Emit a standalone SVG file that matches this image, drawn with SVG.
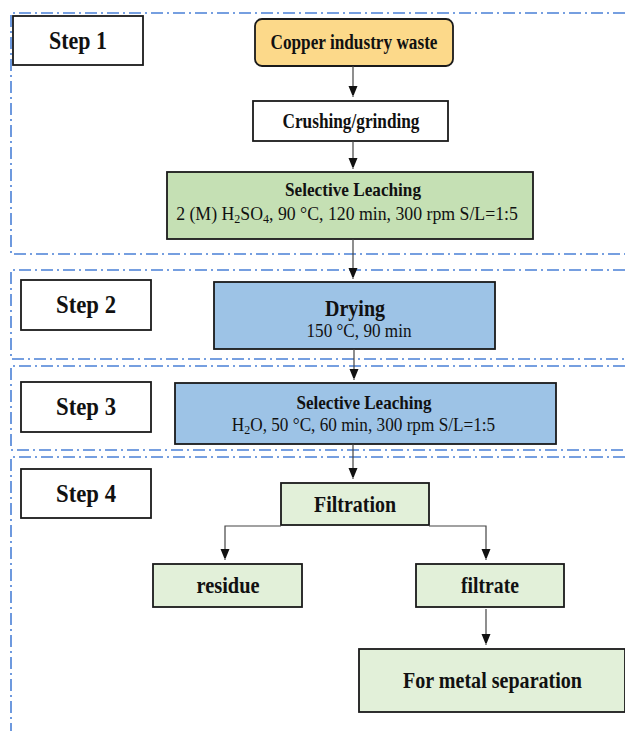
<svg xmlns="http://www.w3.org/2000/svg" width="625" height="731" viewBox="0 0 625 731">
<style>
.sec{fill:none;stroke:#4a80d6;stroke-width:1.6;stroke-dasharray:12 4 2 4}
.box{stroke:#1a1a1a;stroke-width:1.8}
.step{fill:#fff}
.b{font-family:"Liberation Serif","Times New Roman",serif;font-weight:bold;fill:#111;text-anchor:middle}
.r{font-family:"Liberation Serif","Times New Roman",serif;fill:#111;text-anchor:middle}
.con{fill:none;stroke:#444;stroke-width:1.2}
</style>
<defs>
<marker id="ah" markerWidth="9" markerHeight="11" refX="11" refY="4.5" orient="auto" markerUnits="userSpaceOnUse">
<path d="M0,0 L11,4.5 L0,9 z" fill="#111"/>
</marker>
</defs>
<rect width="625" height="731" fill="#fff"/>
<g id="sections">
<path class="sec" d="M625,13 H11 V254 H625"/>
<path class="sec" d="M625,270 H11 V359 H625"/>
<path class="sec" d="M625,366 H11 V450 H625"/>
<path class="sec" d="M625,457 H11 V731"/>
</g>
<g id="step1"><rect class="box step" x="13" y="16" width="130" height="49"/><text class="b" x="78" y="49" font-size="25" textLength="58" lengthAdjust="spacingAndGlyphs">Step 1</text></g>
<g id="step2"><rect class="box step" x="21" y="280" width="130" height="50"/><text class="b" x="86" y="313" font-size="25" textLength="60" lengthAdjust="spacingAndGlyphs">Step 2</text></g>
<g id="step3"><rect class="box step" x="21" y="382" width="130" height="50"/><text class="b" x="86" y="415" font-size="25" textLength="60" lengthAdjust="spacingAndGlyphs">Step 3</text></g>
<g id="step4"><rect class="box step" x="21" y="469" width="130" height="49"/><text class="b" x="86" y="502" font-size="25" textLength="60" lengthAdjust="spacingAndGlyphs">Step 4</text></g>
<g id="copper"><rect class="box" x="255" y="19" width="198" height="47" rx="7" fill="#fcd98a"/><text class="b" x="354" y="49" font-size="20" textLength="167" lengthAdjust="spacingAndGlyphs">Copper industry waste</text></g>
<g id="crushing"><rect class="box" x="253" y="101" width="195" height="40" fill="#fff"/><text class="b" x="351" y="128" font-size="20" textLength="137" lengthAdjust="spacingAndGlyphs">Crushing/grinding</text></g>
<g id="leach1"><rect class="box" x="167" y="172" width="366" height="67" fill="#c5e0b4"/><text class="b" x="353" y="196" font-size="19" textLength="136" lengthAdjust="spacingAndGlyphs">Selective Leaching</text><text class="r" transform="translate(347,220) scale(0.96,1)" x="0" y="0" font-size="18.5">2 (M) H<tspan font-size="12.5" dy="3">2</tspan><tspan dy="-3">SO</tspan><tspan font-size="12.5" dy="3">4</tspan><tspan dy="-3">, 90 °C, 120 min, 300 rpm S/L=1:5</tspan></text></g>
<g id="drying"><rect class="box" x="214" y="282" width="281" height="67" fill="#9dc3e6"/><text class="b" x="355" y="316" font-size="23" textLength="60" lengthAdjust="spacingAndGlyphs">Drying</text><text class="r" x="359" y="337" font-size="18.5" textLength="105" lengthAdjust="spacingAndGlyphs">150 °C, 90 min</text></g>
<g id="leach2"><rect class="box" x="175" y="383" width="381" height="61" fill="#9dc3e6"/><text class="b" x="364" y="409" font-size="19" textLength="135" lengthAdjust="spacingAndGlyphs">Selective Leaching</text><text class="r" transform="translate(363.5,431) scale(0.956,1)" x="0" y="0" font-size="18">H<tspan font-size="12.5" dy="3">2</tspan><tspan dy="-3">O, 50 °C, 60 min, 300 rpm S/L=1:5</tspan></text></g>
<g id="filtration"><rect class="box" x="281" y="483" width="148" height="42" fill="#e2f0d9"/><text class="b" x="355" y="512" font-size="23" textLength="82" lengthAdjust="spacingAndGlyphs">Filtration</text></g>
<g id="residue"><rect class="box" x="153" y="564" width="149" height="43" fill="#e2f0d9"/><text class="b" x="228" y="593" font-size="23" textLength="63" lengthAdjust="spacingAndGlyphs">residue</text></g>
<g id="filtrate"><rect class="box" x="416" y="564" width="148" height="43" fill="#e2f0d9"/><text class="b" x="490" y="593" font-size="23" textLength="58" lengthAdjust="spacingAndGlyphs">filtrate</text></g>
<g id="metal"><rect class="box" x="359" y="649" width="266" height="63" fill="#e2f0d9"/><text class="b" x="492.5" y="688" font-size="23" textLength="179" lengthAdjust="spacingAndGlyphs">For metal separation</text></g>
<g id="connectors">
<path class="con" d="M353,66 V97" marker-end="url(#ah)"/>
<path class="con" d="M353,141 V169" marker-end="url(#ah)"/>
<path class="con" d="M353,239 V279" marker-end="url(#ah)"/>
<path class="con" d="M354,349 V380" marker-end="url(#ah)"/>
<path class="con" d="M353,444 V479" marker-end="url(#ah)"/>
<path class="con" d="M281,526 H225 V560" marker-end="url(#ah)"/>
<path class="con" d="M429,526 H486 V560" marker-end="url(#ah)"/>
<path class="con" d="M486,609 V645" marker-end="url(#ah)"/>
</g>
</svg>
